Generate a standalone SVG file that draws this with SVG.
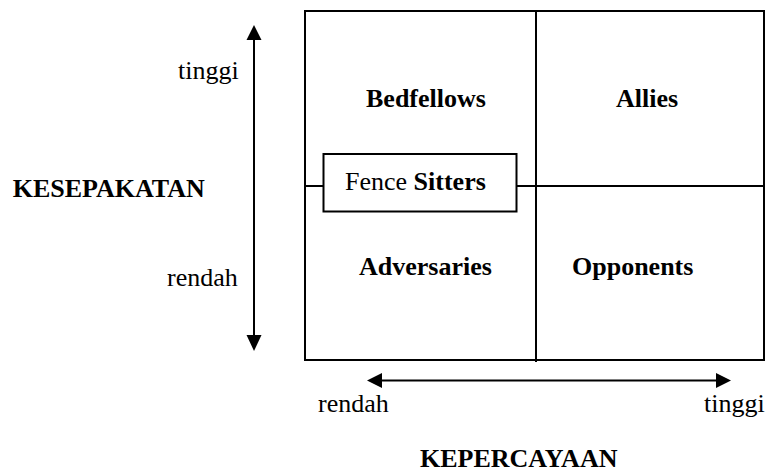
<svg xmlns="http://www.w3.org/2000/svg" width="766" height="476" viewBox="0 0 766 476">
<style>
text{font-family:"Liberation Serif","Times New Roman",serif;font-size:26px;fill:#000}
.b{font-weight:bold}
.ln{stroke:#000;stroke-width:2;fill:none}
</style>
<g id="connectors">
<line class="ln" x1="254" y1="40" x2="254" y2="335"/>
<path d="M254,25 L246.5,40 L261.5,40 Z" fill="#000"/>
<path d="M254,351 L246.5,335 L261.5,335 Z" fill="#000"/>
<line class="ln" x1="382" y1="380.5" x2="716" y2="380.5"/>
<path d="M367,380.5 L382,373 L382,388 Z" fill="#000"/>
<path d="M731,380.5 L716,373 L716,388 Z" fill="#000"/>
</g>
<g id="grid">
<rect class="ln" x="305" y="11" width="459" height="349"/>
<line class="ln" x1="536" y1="11" x2="536" y2="362"/>
<line class="ln" x1="305" y1="186" x2="323" y2="186"/>
<line class="ln" x1="517" y1="186" x2="764" y2="186"/>
</g>
<g id="bedfellows"><text class="b" x="366" y="106.5">Bedfellows</text></g>
<g id="allies"><text class="b" x="616" y="106.5">Allies</text></g>
<g id="adversaries"><text class="b" x="359" y="275">Adversaries</text></g>
<g id="opponents"><text class="b" x="572" y="275">Opponents</text></g>
<g id="fence-sitters">
<rect class="ln" x="323.5" y="154" width="193" height="57.5" fill="#fff"/>
<text x="345" y="190">Fence <tspan class="b">Sitters</tspan></text>
</g>
<g id="axis-labels">
<text x="178" y="79">tinggi</text>
<text x="167" y="286">rendah</text>
<text class="b" x="12.7" y="196.5">KESEPAKATAN</text>
<text x="318" y="412">rendah</text>
<text x="704" y="412">tinggi</text>
<text class="b" x="420" y="466.5">KEPERCAYAAN</text>
</g>
</svg>
